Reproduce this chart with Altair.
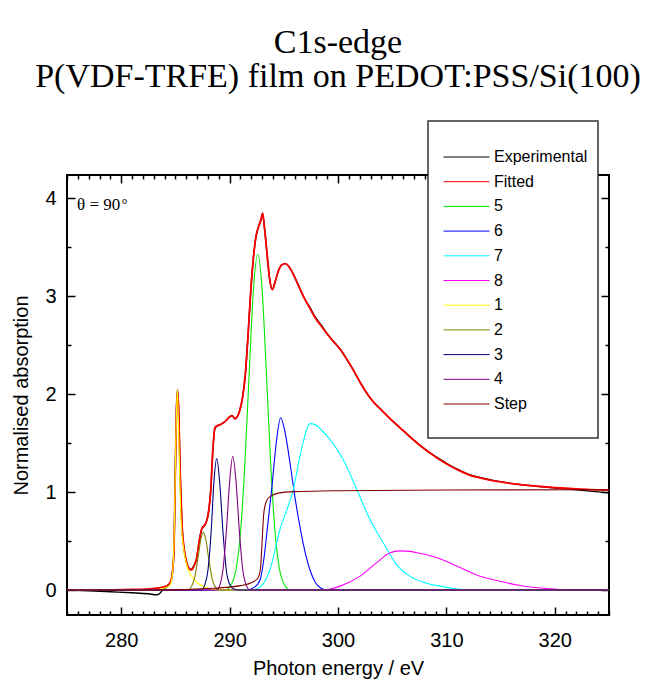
import altair as alt
import pandas as pd

# ---------------- data ----------------
series_names = ["Experimental", "Fitted", "5", "6", "7", "8", "1", "2", "3", "4", "Step"]
series_colors = ["#000000", "#ff0000", "#00e600", "#0000ff", "#00ffff", "#ff00ff",
                 "#ffff00", "#808000", "#000080", "#800080", "#800000"]

experimental_pts = [
    (275.0, 0.0), (277.0, -0.008), (279.0, -0.018), (281.0, -0.028), (282.5, -0.038),
    (283.3, -0.048), (283.6, -0.03), (283.9, 0.01), (284.3, 0.04), (284.6, 0.09),
    (284.85, 0.35), (285.0, 1.25), (285.1, 1.85), (285.2, 2.05), (285.3, 1.85),
    (285.45, 1.15), (285.6, 0.68), (285.8, 0.42), (286.0, 0.3), (286.2, 0.23),
    (286.45, 0.21), (286.7, 0.25), (286.95, 0.32), (287.2, 0.5), (287.45, 0.63),
    (287.75, 0.67), (288.0, 0.76), (288.25, 1.0), (288.45, 1.42), (288.65, 1.65),
    (288.9, 1.68), (289.15, 1.69), (289.45, 1.71), (289.75, 1.74), (290.0, 1.77),
    (290.25, 1.78), (290.5, 1.75), (290.7, 1.77), (290.95, 1.84), (291.2, 1.97),
    (291.45, 2.2), (291.7, 2.6), (291.95, 3.05), (292.2, 3.4), (292.45, 3.62),
    (292.7, 3.72), (292.9, 3.78), (293.05, 3.84), (293.2, 3.72), (293.45, 3.44),
    (293.7, 3.17), (293.95, 3.07), (294.2, 3.15), (294.5, 3.26), (294.8, 3.32),
    (295.15, 3.335), (295.5, 3.3), (295.9, 3.22), (296.4, 3.1), (296.9, 2.98),
    (297.4, 2.89), (297.9, 2.79), (298.5, 2.70), (299.0, 2.62), (299.6, 2.54),
    (300.2, 2.46), (300.8, 2.36), (301.4, 2.25), (302.0, 2.13), (302.6, 2.02),
    (303.2, 1.93), (304.0, 1.84), (305.0, 1.73), (306.0, 1.63), (307.0, 1.53),
    (308.0, 1.44), (309.0, 1.365), (310.0, 1.295), (311.0, 1.235), (312.0, 1.185),
    (313.0, 1.152), (314.0, 1.128), (315.0, 1.107), (316.0, 1.09), (317.0, 1.076),
    (318.0, 1.064), (319.0, 1.053), (320.0, 1.043), (321.0, 1.033), (322.0, 1.023),
    (323.0, 1.013), (324.0, 1.003), (325.0, 0.993),
]

fitted_pts = [
    (275.0, 0.0), (277.0, 0.0), (279.0, 0.002), (281.0, 0.006), (282.5, 0.012),
    (283.3, 0.02), (283.6, 0.024), (283.9, 0.032), (284.3, 0.05), (284.6, 0.1),
    (284.85, 0.36), (285.0, 1.25), (285.1, 1.84), (285.2, 2.03), (285.3, 1.84),
    (285.45, 1.15), (285.6, 0.68), (285.8, 0.42), (286.0, 0.3), (286.2, 0.23),
    (286.45, 0.205), (286.7, 0.24), (286.95, 0.32), (287.2, 0.5), (287.45, 0.63),
    (287.75, 0.67), (288.0, 0.76), (288.25, 1.0), (288.45, 1.42), (288.65, 1.66),
    (288.9, 1.68), (289.15, 1.69), (289.45, 1.71), (289.75, 1.74), (290.0, 1.77),
    (290.25, 1.78), (290.5, 1.75), (290.7, 1.77), (290.95, 1.84), (291.2, 1.97),
    (291.45, 2.2), (291.7, 2.6), (291.95, 3.05), (292.2, 3.4), (292.45, 3.62),
    (292.7, 3.72), (292.9, 3.79), (293.05, 3.85), (293.2, 3.72), (293.45, 3.44),
    (293.7, 3.17), (293.95, 3.07), (294.2, 3.15), (294.5, 3.26), (294.8, 3.32),
    (295.15, 3.335), (295.5, 3.3), (295.9, 3.22), (296.4, 3.1), (296.9, 2.98),
    (297.4, 2.88), (297.9, 2.78), (298.5, 2.69), (299.0, 2.615), (299.6, 2.535),
    (300.2, 2.46), (300.8, 2.36), (301.4, 2.25), (302.0, 2.13), (302.6, 2.02),
    (303.2, 1.93), (304.0, 1.84), (305.0, 1.73), (306.0, 1.63), (307.0, 1.53),
    (308.0, 1.44), (309.0, 1.36), (310.0, 1.29), (311.0, 1.23), (312.0, 1.18),
    (313.0, 1.148), (314.0, 1.124), (315.0, 1.104), (316.0, 1.088), (317.0, 1.075),
    (318.0, 1.064), (319.0, 1.055), (320.0, 1.047), (321.0, 1.04), (322.0, 1.034),
    (323.0, 1.028), (324.0, 1.023), (325.0, 1.02),
]

peak5_pts = [
    (275.0, 0.0), (289.6, 0.0), (290.1, 0.046), (290.6, 0.215), (291.0, 0.58),
    (291.4, 1.27), (291.8, 2.2), (292.2, 3.07), (292.59, 3.43), (293.0, 3.07),
    (293.4, 2.2), (293.8, 1.27), (294.2, 0.58), (294.6, 0.215), (295.1, 0.046),
    (295.6, 0.0), (325.0, 0.0),
]

peak6_pts = [
    (275.0, 0.0), (291.5, 0.0), (292.3, 0.03), (292.8, 0.1), (293.2, 0.35),
    (293.5, 0.65), (293.9, 1.05), (294.3, 1.5), (294.71, 1.76), (295.1, 1.62),
    (295.57, 1.3), (296.0, 0.97), (296.5, 0.64), (297.0, 0.37), (297.4, 0.21),
    (297.9, 0.08), (298.4, 0.02), (299.0, 0.0), (325.0, 0.0),
]

peak7_pts = [
    (275.0, 0.0), (292.0, 0.0), (292.8, 0.03), (293.73, 0.21), (294.65, 0.62),
    (295.88, 1.03), (296.5, 1.37), (297.0, 1.6), (297.42, 1.70), (297.9, 1.69),
    (298.5, 1.63), (299.26, 1.54), (300.49, 1.33), (301.72, 1.03), (302.95, 0.72),
    (304.18, 0.48), (305.41, 0.26), (306.64, 0.14), (308.18, 0.07), (309.4, 0.04),
    (311.0, 0.01), (312.5, 0.0), (325.0, 0.0),
]

peak8_pts = [
    (275.0, 0.0), (298.6, 0.0), (300.2, 0.04), (302.0, 0.14), (303.57, 0.28),
    (304.8, 0.38), (305.7, 0.40), (306.6, 0.395), (307.56, 0.375), (309.4, 0.32),
    (311.25, 0.23), (313.1, 0.14), (314.94, 0.09), (316.8, 0.046), (319.56, 0.012),
    (321.7, 0.0), (325.0, 0.0),
]

peak1_pts = [
    (275.0, 0.0), (283.0, 0.0), (284.0, 0.02), (284.5, 0.05), (284.75, 0.18),
    (284.9, 0.62), (285.03, 1.47), (285.18, 2.05), (285.33, 1.47), (285.49, 0.79),
    (285.73, 0.45), (286.04, 0.26), (286.5, 0.14), (287.27, 0.056), (288.2, 0.012),
    (289.5, 0.0), (325.0, 0.0),
]

peak2_pts = [
    (275.0, 0.0), (286.2, 0.0), (286.5, 0.04), (286.8, 0.14), (287.1, 0.34),
    (287.35, 0.52), (287.57, 0.59), (287.8, 0.52), (288.1, 0.3), (288.4, 0.11),
    (288.7, 0.03), (289.1, 0.0), (325.0, 0.0),
]

peak3_pts = [
    (275.0, 0.0), (287.4, 0.0), (287.7, 0.05), (288.0, 0.2), (288.3, 0.6),
    (288.55, 1.1), (288.81, 1.343), (289.1, 1.08), (289.4, 0.58), (289.7, 0.2),
    (290.0, 0.06), (290.4, 0.01), (290.8, 0.0), (325.0, 0.0),
]

peak4_pts = [
    (275.0, 0.0), (288.8, 0.0), (289.1, 0.05), (289.4, 0.22), (289.7, 0.6),
    (290.0, 1.1), (290.29, 1.367), (290.6, 1.1), (290.9, 0.6), (291.2, 0.22),
    (291.5, 0.06), (291.9, 0.0), (325.0, 0.0),
]

step_pts = [
    (275.0, 0.0), (283.0, 0.0), (286.0, 0.005), (288.0, 0.015), (290.0, 0.03),
    (291.0, 0.045), (292.0, 0.075), (292.6, 0.12), (292.85, 0.22), (293.0, 0.5),
    (293.15, 0.78), (293.4, 0.91), (293.8, 0.96), (294.5, 0.99), (296.0, 1.005),
    (300.0, 1.015), (310.0, 1.022), (325.0, 1.025),
]

x_ticks = list(range(275, 326))
x_ticks_top = list(range(275, 309))
y_ticks = [0, 0.5, 1, 1.5, 2, 2.5, 3, 3.5, 4]

title_lines = ["C1s-edge", "P(VDF-TRFE) film on PEDOT:PSS/Si(100)"]
angle_text = "\u03b8 = 90"

# ---------------- build tables ----------------
point_sets = {
    "Experimental": experimental_pts, "Fitted": fitted_pts,
    "5": peak5_pts, "6": peak6_pts, "7": peak7_pts, "8": peak8_pts,
    "1": peak1_pts, "2": peak2_pts, "3": peak3_pts, "4": peak4_pts,
    "Step": step_pts,
}


def frame(name):
    pts = point_sets[name]
    return pd.DataFrame({"energy": [p[0] for p in pts],
                         "absorption": [p[1] for p in pts],
                         "series": name})


SANS = "Liberation Sans"
SERIF = "Liberation Serif"

xscale = alt.Scale(domain=[275, 325], nice=False, zero=False)
yscale = alt.Scale(domain=[-0.255, 4.24], nice=False, zero=False)

legend = alt.Legend(orient="none", legendX=376, legendY=-26, title=None,
                    symbolType="stroke", symbolSize=2116, symbolStrokeWidth=1,
                    clipHeight=16,
                    labelFont=SANS, labelFontSize=16, labelOffset=4,
                    labelColor="black", rowPadding=8.7, padding=0, labelLimit=0)
color = alt.Color("series:N", scale=alt.Scale(domain=series_names, range=series_colors),
                  legend=legend)

x_bottom = alt.Axis(orient="bottom", values=x_ticks,
                    labelExpr="datum.value % 10 === 0 ? format(datum.value, 'd') : ''",
                    tickSize={"expr": "datum.value % 10 === 0 ? -8 : -4"},
                    tickWidth=1.5, tickColor="black", domain=False, grid=False,
                    labelFont=SANS, labelFontSize=20, labelColor="black",
                    labelPadding=23, labelOverlap=False, labelFlush=False,
                    title="Photon energy / eV", titleFont=SANS, titleFontSize=20,
                    titleFontWeight="normal", titleColor="black",
                    titleY=59, titleBaseline="alphabetic")
y_left = alt.Axis(orient="left", values=y_ticks,
                  labelExpr="datum.value % 1 === 0 ? format(datum.value, 'd') : ''",
                  tickSize={"expr": "datum.value % 1 === 0 ? -8 : -4"},
                  tickWidth=1.5, tickColor="black", domain=False, grid=False,
                  labelFont=SANS, labelFontSize=20, labelColor="black",
                  labelPadding=19, labelOverlap=False, labelFlush=False,
                  title="Normalised absorption", titleFont=SANS, titleFontSize=20,
                  titleFontWeight="normal", titleColor="black",
                  titleX=-40, titleBaseline="alphabetic")
x_top = alt.Axis(orient="top", values=x_ticks_top, labels=False, title=None,
                 tickSize={"expr": "datum.value % 10 === 0 ? -8 : -4"},
                 tickWidth=1.5, tickColor="black", domain=False, grid=False)
y_right = alt.Axis(orient="right", values=y_ticks, labels=False, title=None,
                   tickSize={"expr": "datum.value % 1 === 0 ? -8 : -4"},
                   tickWidth=1.5, tickColor="black", domain=False, grid=False)

widths = {"Experimental": 1.4, "Fitted": 1.8}

layers = []
for name in series_names:
    if name == "Experimental":
        xa, ya = x_bottom, y_left
    elif name == "Fitted":
        xa, ya = x_top, y_right
    else:
        xa, ya = None, None
    layer = alt.Chart(frame(name)).mark_line(
        strokeWidth=widths.get(name, 1.1), interpolate="monotone"
    ).encode(
        x=alt.X("energy:Q", scale=xscale, axis=xa),
        y=alt.Y("absorption:Q", scale=yscale, axis=ya),
        color=color,
        order=alt.Order("energy:Q"),
    )
    layers.append(layer)

one = pd.DataFrame({"k": [0]})
box = alt.Chart(one).mark_rect(fill="white", stroke="#333333", strokeWidth=1.5).encode(
    x=alt.value(361), x2=alt.value(531), y=alt.value(-54), y2=alt.value(263))
theta = alt.Chart(one).mark_text(text=angle_text, font=SERIF, fontSize=17,
                                 align="left", baseline="alphabetic",
                                 color="black").encode(x=alt.value(10), y=alt.value(35))
sup = alt.Chart(one).mark_text(text="o", font=SERIF, fontSize=10,
                               align="left", baseline="alphabetic",
                               color="black").encode(x=alt.value(55), y=alt.value(29))

chart = alt.layer(*layers, box, theta, sup).resolve_axis(
    x="independent", y="independent"
).properties(
    width=542, height=440,
    padding={"left": 67, "top": 175, "right": 47, "bottom": 69},
    autosize=alt.AutoSizeParams(type="none"),
    background="white",
    title=alt.TitleParams(text=title_lines, font=SERIF, fontSize=34,
                          fontWeight="normal", color="black", anchor="middle",
                          frame="group", baseline="bottom", lineHeight=34,
                          offset=-8),
).configure_view(stroke="black", strokeWidth=2)

chart.save("out.html", embed_options={"renderer": "svg", "actions": False})
